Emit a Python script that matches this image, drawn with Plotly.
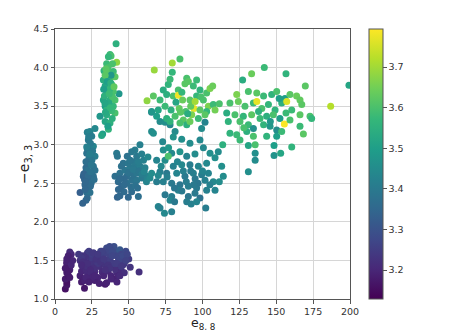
import plotly.graph_objects as go

# --- bottom purple cluster ---
xa = [7, 8, 8, 7, 9, 8, 10, 9, 8, 10, 9, 11, 10, 9, 8, 11,
      17, 18, 19, 20, 21, 22, 23, 24, 18, 19, 20, 22, 23, 24, 25, 26,
      17, 19, 21, 23, 25, 27, 28, 30, 29, 31, 32, 27, 28, 30, 33, 34,
      35, 36, 37, 38, 39, 40, 41, 42, 43, 44, 45, 46, 47, 48, 36, 38,
      40, 42, 44, 46, 35, 37, 39, 41, 43, 45, 33, 31, 29, 26, 24, 22,
      20, 18, 34, 35, 51, 57, 50, 20, 38, 42, 47, 25, 30, 16, 44, 40,
      10, 7, 9, 21, 24, 19, 26, 28, 31, 33, 36, 39, 41, 44, 46, 48,
      22, 27, 32, 37, 42, 18, 23, 29, 34, 39, 45, 49, 12, 8]
ya = [1.13, 1.18, 1.22, 1.26, 1.3, 1.34, 1.38, 1.42, 1.46, 1.5, 1.54, 1.58, 1.61, 1.36, 1.48, 1.44,
      1.3, 1.36, 1.42, 1.5, 1.56, 1.6, 1.55, 1.48, 1.22, 1.56, 1.26, 1.34, 1.4, 1.3, 1.52, 1.45,
      1.5, 1.46, 1.38, 1.62, 1.58, 1.36, 1.48, 1.42, 1.28, 1.55, 1.35, 1.24, 1.56, 1.5, 1.3, 1.44,
      1.66, 1.6, 1.54, 1.48, 1.42, 1.68, 1.62, 1.56, 1.5, 1.64, 1.58, 1.52, 1.46, 1.62, 1.36, 1.3,
      1.26, 1.34, 1.4, 1.44, 1.5, 1.68, 1.58, 1.38, 1.3, 1.36, 1.58, 1.62, 1.46, 1.4, 1.34, 1.42,
      1.24, 1.53, 1.19, 1.21, 1.41, 1.35, 1.52, 1.14, 1.26, 1.22, 1.34, 1.28, 1.2, 1.58, 1.3, 1.46,
      1.28, 1.4, 1.56, 1.28, 1.38, 1.48, 1.6, 1.52, 1.48, 1.52, 1.44, 1.62, 1.46, 1.52, 1.56, 1.5,
      1.46, 1.3, 1.62, 1.4, 1.46, 1.44, 1.22, 1.58, 1.38, 1.56, 1.42, 1.58, 1.5, 1.52]
ca = [3.16, 3.17, 3.16, 3.18, 3.17, 3.18, 3.19, 3.18, 3.17, 3.19, 3.2, 3.2, 3.21, 3.18, 3.19, 3.2,
      3.19, 3.2, 3.21, 3.22, 3.23, 3.24, 3.23, 3.22, 3.18, 3.23, 3.19, 3.21, 3.22, 3.2, 3.24, 3.23,
      3.22, 3.22, 3.21, 3.25, 3.25, 3.21, 3.23, 3.22, 3.2, 3.25, 3.21, 3.19, 3.25, 3.24, 3.2, 3.23,
      3.28, 3.27, 3.26, 3.25, 3.24, 3.29, 3.3, 3.27, 3.26, 3.31, 3.27, 3.26, 3.25, 3.28, 3.21, 3.2,
      3.19, 3.21, 3.23, 3.24, 3.25, 3.28, 3.27, 3.22, 3.2, 3.21, 3.26, 3.27, 3.24, 3.22, 3.21, 3.22,
      3.19, 3.24, 3.18, 3.19, 3.23, 3.22, 3.25, 3.17, 3.2, 3.2, 3.22, 3.2, 3.19, 3.24, 3.21, 3.25,
      3.18, 3.18, 3.19, 3.2, 3.21, 3.22, 3.24, 3.23, 3.23, 3.24, 3.23, 3.28, 3.25, 3.27, 3.28, 3.26,
      3.22, 3.2, 3.26, 3.23, 3.25, 3.21, 3.19, 3.24, 3.22, 3.27, 3.24, 3.27, 3.2, 3.19]

# --- teal column left ---
xb = [21.9, 23.7, 27.1, 24.9, 22.6, 23.7, 26, 21.5, 24.9, 27.1, 22.6, 26, 20.3, 23.3, 27.1,
      19.2, 22.6, 26, 20.3, 22.6, 17, 21.5, 23.7, 21.9, 21, 18.8, 24, 22, 25, 21, 23, 24.5,
      20, 22, 25.5, 23, 21, 24, 19.5, 22.5, 24.5, 20.5, 23.5, 26.5, 21.5, 24, 22.8, 20.8]
yb = [3.16, 3.17, 3.21, 3.11, 3.06, 2.98, 2.98, 2.89, 2.85, 2.85, 2.76, 2.72, 2.63, 2.63, 2.67,
      2.59, 2.57, 2.59, 2.48, 2.44, 2.38, 2.38, 2.38, 2.31, 2.28, 2.24, 3.02, 2.94, 2.8, 2.7, 2.53,
      2.5, 2.55, 2.67, 2.92, 2.82, 2.78, 2.46, 2.62, 2.6, 2.74, 2.42, 2.88, 2.55, 2.97, 2.65, 3.1, 2.52]
cb = [3.42, 3.43, 3.44, 3.41, 3.4, 3.42, 3.43, 3.38, 3.4, 3.41, 3.37, 3.38, 3.35, 3.37, 3.38,
      3.34, 3.36, 3.37, 3.35, 3.36, 3.33, 3.37, 3.38, 3.36, 3.35, 3.34, 3.4, 3.38, 3.39, 3.36, 3.35,
      3.37, 3.34, 3.38, 3.4, 3.39, 3.37, 3.36, 3.34, 3.36, 3.39, 3.35, 3.41, 3.37, 3.42, 3.38, 3.41, 3.35]

# --- green column ---
xc = [41.4, 37.3, 38, 36.2, 41.8, 35, 39, 33.2, 36.2, 39.5, 32.8, 37.3, 40.7, 34, 38.4, 43.4,
      35, 39.5, 32.8, 37.3, 40.7, 34, 39.5, 35, 40.7, 30.5, 34, 37.3, 36.2, 32.3, 31.6,
      36, 38, 34, 35.5, 37, 33.5, 39, 36.5, 35, 38.5, 33, 34.5, 37.8, 36.8, 33.8, 38.8,
      35.8, 40, 34.2, 37.5]
yc = [4.31, 4.17, 4.15, 4.14, 4.07, 4.05, 4.05, 3.96, 3.95, 3.95, 3.84, 3.86, 3.88, 3.76, 3.78, 3.66,
      3.67, 3.69, 3.58, 3.58, 3.58, 3.5, 3.5, 3.39, 3.41, 3.37, 3.3, 3.28, 3.2, 3.14, 3.12,
      4.0, 3.9, 3.9, 3.82, 3.72, 3.63, 3.62, 3.54, 3.45, 3.44, 3.72, 3.98, 3.8, 3.66, 3.54,
      3.34, 3.24, 3.75, 3.42, 3.48]
cc = [3.55, 3.58, 3.6, 3.57, 3.68, 3.58, 3.6, 3.56, 3.62, 3.58, 3.54, 3.6, 3.62, 3.52, 3.58, 3.48,
      3.56, 3.6, 3.52, 3.55, 3.6, 3.5, 3.57, 3.54, 3.6, 3.48, 3.52, 3.55, 3.56, 3.5, 3.52,
      3.6, 3.48, 3.62, 3.5, 3.57, 3.55, 3.6, 3.53, 3.56, 3.58, 3.5, 3.62, 3.55, 3.58, 3.52,
      3.55, 3.5, 3.63, 3.53, 3.57]

# --- middle blob ---
xd = [41.8, 42.3, 57.6, 54.2, 52, 49, 55.4, 58.8, 40.7, 44, 47.5, 50.8, 54.2, 57.6, 61,
      46.3, 49.7, 53.1, 56.5, 42.9, 45.2, 48.6, 52, 55.4, 58.8, 62.1, 42.3, 44, 46.8, 49.7,
      52, 56.5, 62, 64.4, 65.5, 48.6, 53.1, 55.4, 51, 47, 60, 45,
      50, 53, 57, 59, 44, 47, 51.5, 54.5, 60.5, 43, 63, 56]
yd = [2.89, 2.85, 3.0, 2.93, 2.91, 2.85, 2.85, 2.88, 2.59, 2.63, 2.67, 2.7, 2.72, 2.72, 2.7,
      2.76, 2.76, 2.78, 2.78, 2.52, 2.46, 2.5, 2.54, 2.54, 2.57, 2.59, 2.32, 2.34, 2.39, 2.32,
      2.39, 2.33, 2.52, 2.57, 2.63, 2.59, 2.61, 2.63, 2.8, 2.56, 2.8, 2.72,
      2.64, 2.68, 2.66, 2.62, 2.56, 2.48, 2.45, 2.47, 2.65, 2.42, 2.84, 2.44]
cd = [3.4, 3.39, 3.42, 3.41, 3.4, 3.38, 3.4, 3.42, 3.37, 3.38, 3.39, 3.4, 3.4, 3.41, 3.42,
      3.38, 3.39, 3.4, 3.41, 3.36, 3.35, 3.37, 3.38, 3.39, 3.4, 3.42, 3.34, 3.35, 3.36, 3.35,
      3.36, 3.37, 3.43, 3.44, 3.45, 3.37, 3.38, 3.39, 3.39, 3.36, 3.42, 3.38,
      3.38, 3.4, 3.39, 3.41, 3.36, 3.36, 3.37, 3.38, 3.43, 3.35, 3.44, 3.37]

# --- right teal cluster ---
xe = [65.5, 71.2, 74.6, 78, 81.4, 65.5, 66.7, 73, 80.2, 85.9, 91.5, 98.3, 101.7, 99.4,
      73.4, 79.1, 84.7, 89.3, 94.9, 100.6, 105.1, 110.7, 68.9, 74.6, 80.2, 85.9, 91.5, 97.2,
      102.8, 108.5, 71.2, 75.7, 82.5, 88.1, 93.8, 99.4, 104, 113, 114.1, 68.9, 73.4, 79.1,
      84.7, 90.4, 96, 101.7, 107.3, 111.4, 74.6, 79.1, 83.6, 90.4, 94.9, 98.3, 102.8, 108.5,
      70, 71.2, 74.2, 79.1, 78, 81.1, 89.3, 92.3, 96, 102.2, 76.8, 87, 95, 77,
      72, 83, 92, 97, 86, 76, 81, 89, 94, 100, 105, 70]
ye = [3.42, 3.3, 3.29, 3.26, 3.17, 3.17, 3.15, 3.04, 3.1, 3.07, 3.02, 3.06, 3.29, 3.21,
      2.93, 2.89, 2.91, 2.85, 2.88, 2.96, 2.89, 2.91, 2.8, 2.8, 2.72, 2.74, 2.74, 2.72,
      2.76, 2.83, 2.65, 2.63, 2.63, 2.59, 2.63, 2.61, 2.63, 2.72, 2.59, 2.52, 2.52, 2.5,
      2.48, 2.46, 2.44, 2.54, 2.52, 2.52, 2.35, 2.33, 2.41, 2.33, 2.37, 2.31, 2.41, 2.41,
      2.2, 2.18, 2.11, 2.13, 2.28, 2.26, 2.26, 2.23, 2.26, 2.18, 2.85, 2.66, 2.56, 2.96,
      2.72, 2.78, 2.66, 2.5, 2.4, 2.58, 2.44, 2.52, 2.48, 2.66, 2.48, 2.6]
ce = [3.42, 3.45, 3.46, 3.44, 3.45, 3.45, 3.46, 3.44, 3.47, 3.46, 3.45, 3.44, 3.43, 3.45,
      3.46, 3.44, 3.47, 3.43, 3.45, 3.44, 3.46, 3.45, 3.43, 3.45, 3.42, 3.44, 3.41, 3.43,
      3.44, 3.46, 3.42, 3.4, 3.43, 3.4, 3.42, 3.41, 3.43, 3.46, 3.45, 3.41, 3.42, 3.4,
      3.39, 3.41, 3.4, 3.42, 3.44, 3.45, 3.4, 3.41, 3.42, 3.39, 3.4, 3.38, 3.42, 3.43,
      3.43, 3.42, 3.44, 3.42, 3.43, 3.4, 3.41, 3.42, 3.43, 3.41, 3.6, 3.42, 3.4, 3.48,
      3.44, 3.43, 3.41, 3.39, 3.4, 3.42, 3.39, 3.41, 3.4, 3.43, 3.42, 3.44]

# --- upper middle green cluster ---
xf = [67.3, 79.5, 84.7, 79.5, 89.3, 90.4, 96, 73.4, 76.8, 83.6, 88.1, 93.8, 98.3, 102.8,
      105.1, 106.9, 62.4, 66.7, 71.2, 75.7, 80.2, 83.6, 86.5, 91.5, 96, 100.6, 104, 107.3,
      111.4, 65.5, 70, 74.6, 78.7, 84.2, 88.7, 94.2, 98.3, 102.8, 108.5, 68.9, 75.7, 81.4,
      87, 92.7, 97.2, 101.7, 78, 84.7, 89.3, 91.5, 82, 86, 92, 95, 78, 85, 90, 99]
yf = [3.97, 4.06, 4.11, 3.94, 3.86, 3.82, 3.84, 3.71, 3.78, 3.71, 3.79, 3.76, 3.71, 3.67,
      3.73, 3.76, 3.57, 3.63, 3.58, 3.65, 3.63, 3.64, 3.58, 3.58, 3.63, 3.58, 3.5, 3.52,
      3.53, 3.43, 3.45, 3.5, 3.45, 3.47, 3.43, 3.47, 3.45, 3.43, 3.45, 3.37, 3.34, 3.37,
      3.32, 3.39, 3.34, 3.39, 3.3, 3.28, 3.26, 3.3, 3.55, 3.68, 3.5, 3.56, 3.85, 3.42, 3.4, 3.62]
cf = [3.69, 3.7, 3.6, 3.57, 3.6, 3.62, 3.58, 3.54, 3.56, 3.6, 3.62, 3.58, 3.56, 3.6,
      3.66, 3.64, 3.68, 3.62, 3.58, 3.55, 3.6, 3.78, 3.64, 3.62, 3.57, 3.6, 3.66, 3.58,
      3.6, 3.48, 3.52, 3.58, 3.55, 3.63, 3.6, 3.77, 3.62, 3.57, 3.65, 3.5, 3.55, 3.6,
      3.62, 3.66, 3.58, 3.62, 3.56, 3.6, 3.55, 3.64, 3.52, 3.57, 3.63, 3.7, 3.58, 3.62, 3.54, 3.6]

# --- right green cluster ---
xg = [141.9, 133.3, 156.6, 169.7, 199.3, 186.9, 127.2, 123.2, 131.1, 136.8, 141.4, 146.9,
      150.3, 155.9, 159.3, 163.8, 166.1, 118.6, 124.3, 128.8, 134.5, 136.8, 140.2, 144.7,
      149.2, 153.7, 157.1, 160.5, 167.3, 116.4, 122, 127.7, 133.3, 139, 143.5, 148, 152.5,
      156.6, 166.1, 172.9, 174, 117.5, 125.4, 131.1, 134.5, 141.4, 145.8, 150.3, 155.5,
      159.3, 166.1, 118.6, 123.2, 130, 134.5, 143.5, 150.3, 153.7, 168.4, 113.7, 125.4,
      131.1, 135.7, 148.5, 160.5, 135.7, 153, 148.5, 135.7, 131.1, 146, 138, 128, 152]
yg = [4.0, 3.92, 3.92, 3.76, 3.77, 3.5, 3.84, 3.65, 3.69, 3.67, 3.63, 3.65,
      3.69, 3.6, 3.65, 3.63, 3.58, 3.54, 3.56, 3.5, 3.54, 3.56, 3.47, 3.52,
      3.45, 3.54, 3.56, 3.45, 3.52, 3.41, 3.39, 3.37, 3.39, 3.34, 3.37, 3.39, 3.34,
      3.41, 3.39, 3.37, 3.34, 3.3, 3.3, 3.26, 3.21, 3.26, 3.24, 3.19, 3.27,
      3.32, 3.24, 3.15, 3.13, 3.17, 3.11, 3.11, 3.11, 3.17, 3.14, 3.0, 3.06,
      2.99, 3.0, 2.99, 2.97, 2.89, 2.89, 2.86, 2.8, 2.65, 3.3, 3.43, 3.22, 3.6]
cg = [3.58, 3.64, 3.56, 3.62, 3.52, 3.72, 3.54, 3.66, 3.6, 3.62, 3.58, 3.56,
      3.6, 3.5, 3.62, 3.64, 3.63, 3.6, 3.64, 3.6, 3.58, 3.77, 3.6, 3.57,
      3.56, 3.55, 3.76, 3.58, 3.62, 3.54, 3.6, 3.57, 3.62, 3.58, 3.55, 3.6, 3.5,
      3.58, 3.62, 3.6, 3.57, 3.56, 3.6, 3.58, 3.46, 3.56, 3.48, 3.45, 3.79,
      3.6, 3.58, 3.56, 3.58, 3.55, 3.6, 3.56, 3.5, 3.58, 3.62, 3.55, 3.58,
      3.52, 3.6, 3.5, 3.56, 3.46, 3.52, 3.47, 3.45, 3.46, 3.48, 3.55, 3.6, 3.5]

x_all = xa + xb + xc + xd + xe + xf + xg
y_all = ya + yb + yc + yd + ye + yf + yg
c_all = ca + cb + cc + cd + ce + cf + cg

cbar_ticks = [3.2, 3.3, 3.4, 3.5, 3.6, 3.7]

fnt = 'DejaVu Sans'

fig = go.Figure(go.Scatter(
    x=x_all, y=y_all, mode='markers',
    marker=dict(
        size=7,
        color=c_all,
        colorscale='Viridis',
        cmin=3.129, cmax=3.794,
        line=dict(width=0),
        colorbar=dict(
            x=1.064, xanchor='left', y=0.5, yanchor='middle',
            len=1, lenmode='fraction', thickness=14, xpad=0, ypad=0,
            outlinecolor='#555555', outlinewidth=1,
            tickvals=cbar_ticks, ticktext=[f'{t:.1f}' for t in cbar_ticks],
            ticks='outside', ticklen=3.5, tickcolor='#555555',
            tickfont=dict(family=fnt, size=9.5, color='#333333'),
        ),
    ),
    showlegend=False,
))

axis_common = dict(
    showgrid=True, gridcolor='#d6d6d6', gridwidth=1.2,
    showline=True, linecolor='#555555', linewidth=1, mirror=True,
    ticks='outside', ticklen=3.5, tickcolor='#555555',
    tickfont=dict(family=fnt, size=9.5, color='#333333'),
    zeroline=False, layer='above traces', automargin=False,
)

# the page body adds an 8px offset, so the figure is a bit smaller than the window
fig.update_layout(
    width=441, height=322,
    margin=dict(l=47, r=99, t=21, b=31, autoexpand=False),
    paper_bgcolor='white', plot_bgcolor='white',
    font=dict(family=fnt),
    xaxis=dict(axis_common, range=[0, 200], tickvals=list(range(0, 201, 25))),
    yaxis=dict(axis_common, range=[1.0, 4.5], tickvals=[1.0, 1.5, 2.0, 2.5, 3.0, 3.5, 4.0, 4.5],
               tickformat='.1f'),
)

# axis titles as annotations so they sit exactly where the reference has them
fig.add_annotation(text='e<sub>8, 8</sub>', xref='paper', yref='paper', x=0.5, y=-0.051,
                   xanchor='center', yanchor='top', showarrow=False,
                   font=dict(family=fnt, size=12.5, color='#222222'))
fig.add_annotation(text='−e<sub>3, 3</sub>', xref='paper', yref='paper', x=-0.102, y=0.5,
                   xanchor='center', yanchor='middle', textangle=-90, showarrow=False,
                   font=dict(family=fnt, size=14, color='#222222'))

fig.write_html("out.html")
